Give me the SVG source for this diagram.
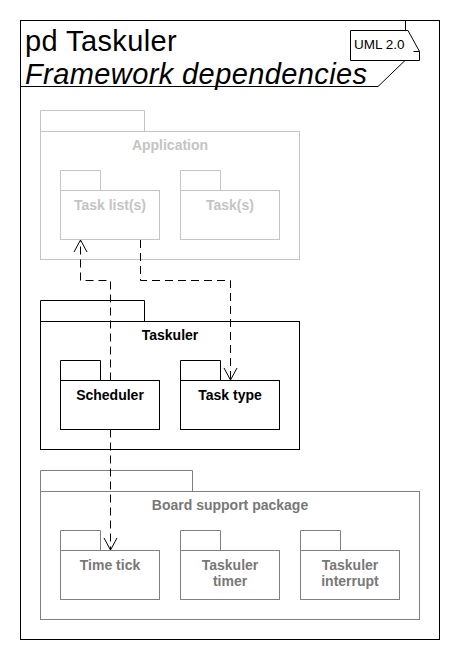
<svg xmlns="http://www.w3.org/2000/svg" width="460" height="660" viewBox="0 0 460 660">
<style>
.frame{fill:none;stroke:#000;stroke-width:1}
.pk-app{fill:none;stroke:#c4c4c4;stroke-width:1}
.pk-tsk{fill:#fff;stroke:#000;stroke-width:1}
.pk-bsp{fill:#fff;stroke:#808080;stroke-width:1}
.lbl{font-family:"Liberation Sans",Arial,sans-serif;font-weight:bold;font-size:14px;text-anchor:middle}
.t-app{fill:#c4c4c4}
.t-tsk{fill:#000}
.t-bsp{fill:#787878}
.dep{fill:none;stroke:#000;stroke-width:1;stroke-dasharray:8,5}
.title{font-family:"Liberation Sans",Arial,sans-serif;font-size:29px;fill:#000;letter-spacing:0.4px}
</style>
<defs>
<marker id="open" markerUnits="userSpaceOnUse" markerWidth="20" markerHeight="20" refX="0" refY="0" viewBox="-14 -10 16 20" orient="auto" overflow="visible">
<path d="M-12,-6.5 L0,0 L-12,6.5" fill="none" stroke="#000" stroke-width="1" stroke-dasharray="none"/>
</marker>
</defs>
<rect width="460" height="660" fill="#fff"/>
<g id="frame">
<rect class="frame" x="20.5" y="20.5" width="419" height="619"/>
<path class="frame" d="M20.5,86.5 H378 L405.5,60 V20.5"/>
<text class="title" x="25" y="51">pd Taskuler</text>
<text class="title" x="25" y="83.5" font-style="italic">Framework dependencies</text>
</g>
<g id="uml-note">
<path d="M350.5,30.5 H408 L419.5,51.5 V60.5 H350.5 Z" fill="#fff" stroke="#000" stroke-width="1"/>
<path d="M413.5,51.5 H419.5" fill="none" stroke="#000" stroke-width="1"/>
<text x="354" y="49" font-family="'Liberation Sans',Arial,sans-serif" font-size="13.5" fill="#000">UML 2.0</text>
</g>
<g id="application">
<path class="pk-app" d="M40.5,131.5 V110.5 H144.5 V131.5"/>
<rect class="pk-app" x="40.5" y="131.5" width="259" height="128"/>
<text class="lbl t-app" x="170" y="150">Application</text>
</g>
<g id="task-lists">
<path class="pk-app" d="M60.5,190.5 V170.5 H100.5 V190.5"/>
<rect class="pk-app" x="60.5" y="190.5" width="99" height="49"/>
<text class="lbl t-app" x="110" y="210">Task list(s)</text>
</g>
<g id="tasks">
<path class="pk-app" d="M180.5,190.5 V170.5 H220.5 V190.5"/>
<rect class="pk-app" x="180.5" y="190.5" width="99" height="49"/>
<text class="lbl t-app" x="230" y="210">Task(s)</text>
</g>
<g id="taskuler">
<path class="pk-tsk" d="M40.5,321.5 V300.5 H144.5 V321.5"/>
<rect class="pk-tsk" x="40.5" y="321.5" width="259" height="128"/>
<text class="lbl t-tsk" x="170" y="340">Taskuler</text>
</g>
<g id="scheduler">
<path class="pk-tsk" d="M60.5,380.5 V360.5 H100.5 V380.5"/>
<rect class="pk-tsk" x="60.5" y="380.5" width="99" height="49"/>
<text class="lbl t-tsk" x="110" y="400">Scheduler</text>
</g>
<g id="task-type">
<path class="pk-tsk" d="M180.5,380.5 V360.5 H220.5 V380.5"/>
<rect class="pk-tsk" x="180.5" y="380.5" width="99" height="49"/>
<text class="lbl t-tsk" x="230" y="400">Task type</text>
</g>
<g id="bsp">
<path class="pk-bsp" d="M40.5,491.5 V470.5 H192.5 V491.5"/>
<rect class="pk-bsp" x="40.5" y="491.5" width="379" height="128"/>
<text class="lbl t-bsp" x="230" y="510">Board support package</text>
</g>
<g id="time-tick">
<path class="pk-bsp" d="M60.5,550.5 V530.5 H100.5 V550.5"/>
<rect class="pk-bsp" x="60.5" y="550.5" width="99" height="49"/>
<text class="lbl t-bsp" x="110" y="570">Time tick</text>
</g>
<g id="taskuler-timer">
<path class="pk-bsp" d="M180.5,550.5 V530.5 H220.5 V550.5"/>
<rect class="pk-bsp" x="180.5" y="550.5" width="99" height="49"/>
<text class="lbl t-bsp" x="230" y="570">Taskuler</text>
<text class="lbl t-bsp" x="230" y="586">timer</text>
</g>
<g id="taskuler-interrupt">
<path class="pk-bsp" d="M300.5,550.5 V530.5 H340.5 V550.5"/>
<rect class="pk-bsp" x="300.5" y="550.5" width="99" height="49"/>
<text class="lbl t-bsp" x="350" y="570">Taskuler</text>
<text class="lbl t-bsp" x="350" y="586">interrupt</text>
</g>
<g id="connectors">
<path class="dep" d="M110.5,380.5 V280.5 H80.5 V240" marker-end="url(#open)"/>
<path class="dep" d="M140.5,240 V280.5 H230.5 V380" marker-end="url(#open)"/>
<path class="dep" d="M110.5,429.5 V550" marker-end="url(#open)"/>
</g>
</svg>
